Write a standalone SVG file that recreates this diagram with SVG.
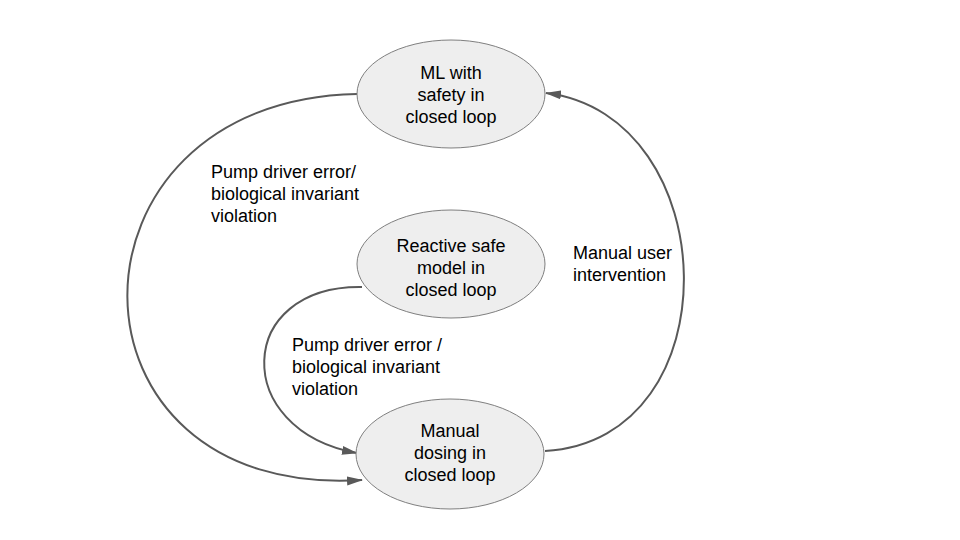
<svg xmlns="http://www.w3.org/2000/svg" width="960" height="540" viewBox="0 0 960 540">
<style>
.node ellipse{fill:#eeeeee;stroke:#7f7f7f;stroke-width:1}
text{font-family:"Liberation Sans",Arial,sans-serif;font-size:18px;fill:#000}
.c text{text-anchor:middle}
.edge{fill:none;stroke:#595959;stroke-width:2}
</style>
<defs>
<marker id="arr" viewBox="0 0 10 10" refX="9" refY="5" markerWidth="7" markerHeight="7" orient="auto" markerUnits="userSpaceOnUse">
<path d="M0,0 L10,5 L0,10 z" fill="#595959"/>
</marker>
<marker id="arrow" viewBox="0 0 16 10" refX="15" refY="5" markerWidth="16" markerHeight="10" orient="auto" markerUnits="userSpaceOnUse">
<path d="M0,0.5 L16,5 L0,9.5 z" fill="#595959"/>
</marker>
</defs>
<rect width="960" height="540" fill="#fff"/>
<g id="connectors">
<path class="edge" d="M357,94 C50,100 50,500 362,480" marker-end="url(#arrow)"/>
<path class="edge" d="M362,287 C235,285 230,430 357,453" marker-end="url(#arrow)"/>
<path class="edge" d="M545,451 C735,440 725,115 546,93" marker-end="url(#arrow)"/>
<text x="211" y="178">Pump driver error/</text>
<text x="211" y="200">biological invariant</text>
<text x="211" y="222">violation</text>
<text x="292" y="351">Pump driver error /</text>
<text x="292" y="373">biological invariant</text>
<text x="292" y="395">violation</text>
<text x="573" y="259">Manual user</text>
<text x="573" y="281">intervention</text>
</g>
<g id="ml" class="node c">
<ellipse cx="451" cy="94" rx="94" ry="54"/>
<text x="451" y="79">ML with</text>
<text x="451" y="101">safety in</text>
<text x="451" y="123">closed loop</text>
</g>
<g id="reactive" class="node c">
<ellipse cx="451" cy="264" rx="94" ry="54"/>
<text x="451" y="252">Reactive safe</text>
<text x="451" y="274">model in</text>
<text x="451" y="296">closed loop</text>
</g>
<g id="manual" class="node c">
<ellipse cx="450" cy="454" rx="94" ry="55"/>
<text x="450" y="437">Manual</text>
<text x="450" y="459">dosing in</text>
<text x="450" y="481">closed loop</text>
</g>
</svg>
